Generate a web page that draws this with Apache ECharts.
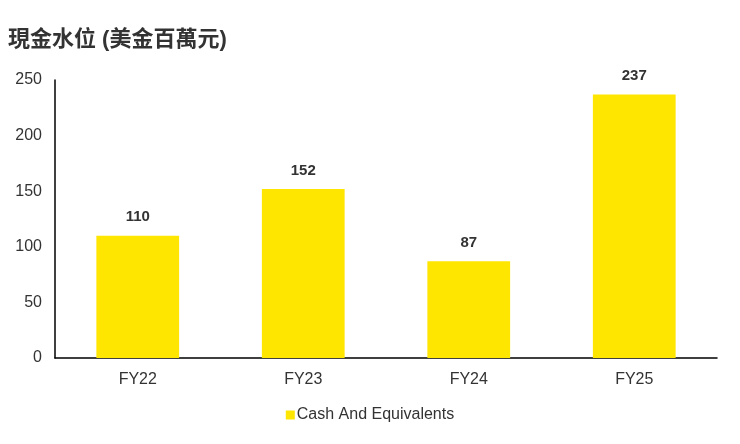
<!DOCTYPE html>
<html><head><meta charset="utf-8">
<script src="https://cdn.jsdelivr.net/npm/echarts@6/dist/echarts.min.js"></script>
<style>html,body{margin:0;padding:0;background:#fff}#c{width:740px;height:444px}</style>
</head><body><div id="c"></div>
<script>
var title = '現金水位 (美金百萬元)';
var categories = ['FY22', 'FY23', 'FY24', 'FY25'];
var seriesName = 'Cash And Equivalents';
var values = [110, 152, 87, 237];
var yTicks = [0, 50, 100, 150, 200, 250];

var chart = echarts.init(document.getElementById('c'));
chart.setOption({
  animation: false,
  title: {text: title, left: 3, top: 24, textStyle: {fontFamily: '"Liberation Sans","Noto Sans CJK TC",sans-serif', fontSize: 22, fontWeight: 'bold', color: '#333'}},
  legend: {bottom: 16, left: 'center', itemWidth: 9, itemHeight: 9, icon: 'rect', itemGap: 4,
    textStyle: {fontFamily: '"Liberation Sans",sans-serif', fontSize: 16, color: '#333', padding: [0,0,0,-3]}},
  grid: {left: 55, right: 23, top: 80, bottom: 86},
  xAxis: {type: 'category', data: categories,
    axisLine: {lineStyle: {color: '#000', width: 1.5}}, axisTick: {show: false},
    axisLabel: {margin: 14, fontFamily: '"Liberation Sans",sans-serif', fontSize: 16, color: '#333'}},
  yAxis: {type: 'value', min: yTicks[0], max: yTicks[yTicks.length-1], interval: 50,
    axisLine: {show: true, lineStyle: {color: '#000', width: 1.5}}, axisTick: {show: false}, splitLine: {show: false},
    axisLabel: {margin: 13, fontFamily: '"Liberation Sans",sans-serif', fontSize: 16, color: '#333'}},
  series: [{name: seriesName, type: 'bar', data: values, barWidth: '50%', itemStyle: {color: '#FFE600'},
    label: {show: true, position: 'top', distance: 11, fontFamily: '"Liberation Sans",sans-serif', fontSize: 15, fontWeight: 'bold', color: '#333'}}]
});
</script></body></html>
